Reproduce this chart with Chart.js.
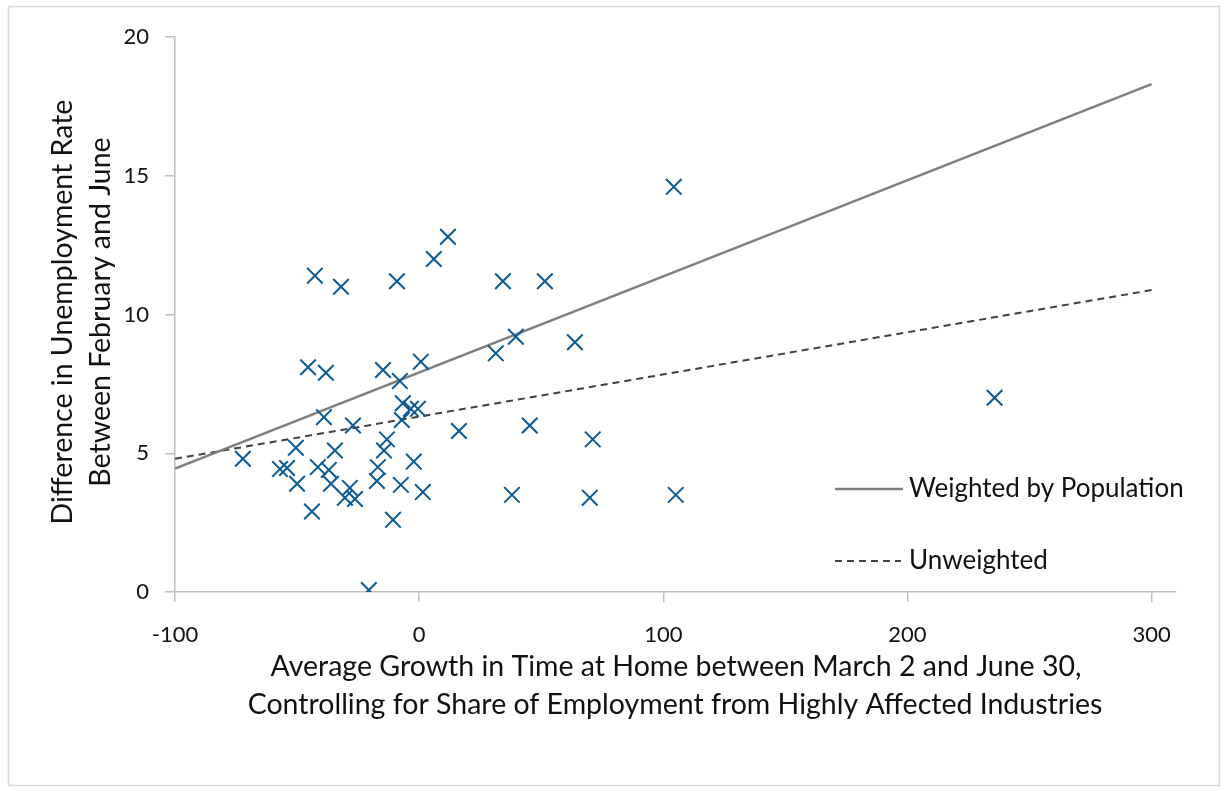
<!DOCTYPE html>
<html lang="en">
<head>
    <meta charset="UTF-8">
    <title>Unemployment vs Time at Home</title>
    <script src="https://cdn.jsdelivr.net/npm/chart.js"></script>
    <style>
        html, body {
            margin: 0;
            padding: 0;
            background: #ffffff;
        }
        .wrap {
            width: 1227px;
            height: 791px;
            position: relative;
        }
    </style>
</head>
<body>
    <div class="wrap">
        <canvas id="scatter"></canvas>
    </div>

    <script>
        // growth in time at home (x) vs change in unemployment rate (y)
        const growth = [
            -72.2, -57, -54.1, -50.5, -50, -45.5, -43.9, -42.7, -41.5, -39,
            -38.2, -37, -36.1, -34.5, -32, -30.4, -28.4, -27.1, -26.3, -20.6,
            -17.3, -16.9, -14.8, -14.4, -13.2, -10.7, -9.1, -7.9, -7.5, -6.7,
            -7.1, -3.4, -2.2, -0.5, 0.7, 1.5, 6, 11.8, 16.3, 31.4,
            34.3, 38, 39.6, 45.3, 51.5, 63.8, 69.9, 71.1, 104.3, 105.1,
            235.7
        ];
        const unempDiff = [
            4.8, 4.43, 4.47, 5.2, 3.9, 8.1, 2.9, 11.4, 4.5, 6.3,
            7.9, 4.4, 3.9, 5.1, 11.0, 3.4, 3.75, 6.0, 3.35, 0.07,
            4.0, 4.5, 8.0, 5.1, 5.5, 2.6, 11.2, 7.6, 3.86, 6.8,
            6.2, 6.6, 4.7, 6.6, 8.3, 3.6, 12.0, 12.8, 5.8, 8.6,
            11.2, 3.5, 9.2, 6.0, 11.2, 9.0, 3.4, 5.5, 14.6, 3.5,
            7.0
        ];

        // fitted lines, end points
        const lineX = [-100, 300];
        const weightedY = [4.45, 18.3];
        const unweightedY = [4.8, 10.88];

        const xTicks = [-100, 0, 100, 200, 300];
        const yTicks = [0, 5, 10, 15, 20];

        const xTitle = [
            'Average Growth in Time at Home between March 2 and June 30,',
            'Controlling for Share of Employment from Highly Affected Industries'
        ];
        const yTitle = ['Difference in Unemployment Rate', 'Between February and June'];
        const legendLabels = ['Weighted by Population', 'Unweighted'];

        const FONT = 'Lato, "Open Sans", sans-serif';
        const axisGrey = '#bfbfbf';
        const markerBlue = '#0b5a93';

        const toPoints = (xa, ya) => xa.map((x, i) => ({ x: x, y: ya[i] }));

        // draws the frame, axis titles and the in-plot legend
        const decorations = {
            id: 'decorations',
            beforeDraw(chart) {
                const ctx = chart.ctx;
                ctx.save();
                ctx.strokeStyle = '#d9d9d9';
                ctx.lineWidth = 1.5;
                ctx.strokeRect(8.5, 6.5, 1211, 779);
                ctx.restore();
            },
            afterDraw(chart) {
                const ctx = chart.ctx;
                ctx.save();
                ctx.fillStyle = '#111111';
                ctx.textAlign = 'center';
                ctx.textBaseline = 'middle';
                ctx.font = '28.5px ' + FONT;
                ctx.fillText(xTitle[0], 676, 667);
                ctx.fillText(xTitle[1], 675, 705);

                ctx.translate(0, 312);
                ctx.rotate(-Math.PI / 2);
                ctx.fillText(yTitle[0], 0, 63);
                ctx.fillText(yTitle[1], 0, 101);
                ctx.restore();

                // legend
                ctx.save();
                ctx.font = '26px ' + FONT;
                ctx.textAlign = 'left';
                ctx.textBaseline = 'middle';
                ctx.fillStyle = '#111111';
                ctx.lineWidth = 2.5;
                ctx.strokeStyle = '#7f7f7f';
                ctx.beginPath();
                ctx.moveTo(835, 489);
                ctx.lineTo(903, 489);
                ctx.stroke();
                ctx.fillText(legendLabels[0], 909, 489);

                ctx.lineWidth = 2;
                ctx.strokeStyle = '#404040';
                ctx.setLineDash([7, 5]);
                ctx.beginPath();
                ctx.moveTo(835, 561);
                ctx.lineTo(901, 561);
                ctx.stroke();
                ctx.setLineDash([]);
                ctx.fillText(legendLabels[1], 909, 561);
                ctx.restore();
            }
        };

        new Chart(document.getElementById('scatter'), {
            type: 'scatter',
            data: {
                datasets: [
                    {
                        label: 'Counties',
                        data: toPoints(growth, unempDiff),
                        pointStyle: 'crossRot',
                        pointRadius: 11,
                        pointHoverRadius: 11,
                        borderColor: markerBlue,
                        backgroundColor: markerBlue,
                        pointBorderWidth: 2
                    },
                    {
                        label: legendLabels[0],
                        type: 'line',
                        data: toPoints(lineX, weightedY),
                        borderColor: '#7f7f7f',
                        borderWidth: 2.5,
                        pointRadius: 0,
                        fill: false
                    },
                    {
                        label: legendLabels[1],
                        type: 'line',
                        data: toPoints(lineX, unweightedY),
                        borderColor: '#404040',
                        borderWidth: 2,
                        borderDash: [7, 5],
                        pointRadius: 0,
                        fill: false
                    }
                ]
            },
            options: {
                responsive: true,
                maintainAspectRatio: false,
                animation: false,
                layout: { padding: { top: 37, right: 51, left: 0, bottom: 0 } },
                plugins: {
                    legend: { display: false },
                    tooltip: { enabled: false }
                },
                scales: {
                    x: {
                        type: 'linear',
                        min: -100,
                        max: 310,
                        afterBuildTicks: (scale) => { scale.ticks = xTicks.map(v => ({ value: v })); },
                        afterFit: (scale) => { scale.height = 199; },
                        grid: { drawOnChartArea: false, drawTicks: true, tickLength: 10, color: axisGrey, lineWidth: 1.5 },
                        border: { color: axisGrey, width: 1.5 },
                        ticks: { color: '#111111', font: { family: FONT, size: 22 }, padding: 20, maxRotation: 0 }
                    },
                    y: {
                        type: 'linear',
                        min: 0,
                        max: 20,
                        afterBuildTicks: (scale) => { scale.ticks = yTicks.map(v => ({ value: v })); },
                        afterFit: (scale) => { scale.width = 175; },
                        grid: { drawOnChartArea: false, drawTicks: true, tickLength: 10, color: axisGrey, lineWidth: 1.5 },
                        border: { color: axisGrey, width: 1.5 },
                        ticks: { color: '#111111', font: { family: FONT, size: 22 }, padding: 16 }
                    }
                }
            },
            plugins: [decorations]
        });
    </script>
</body>
</html>
